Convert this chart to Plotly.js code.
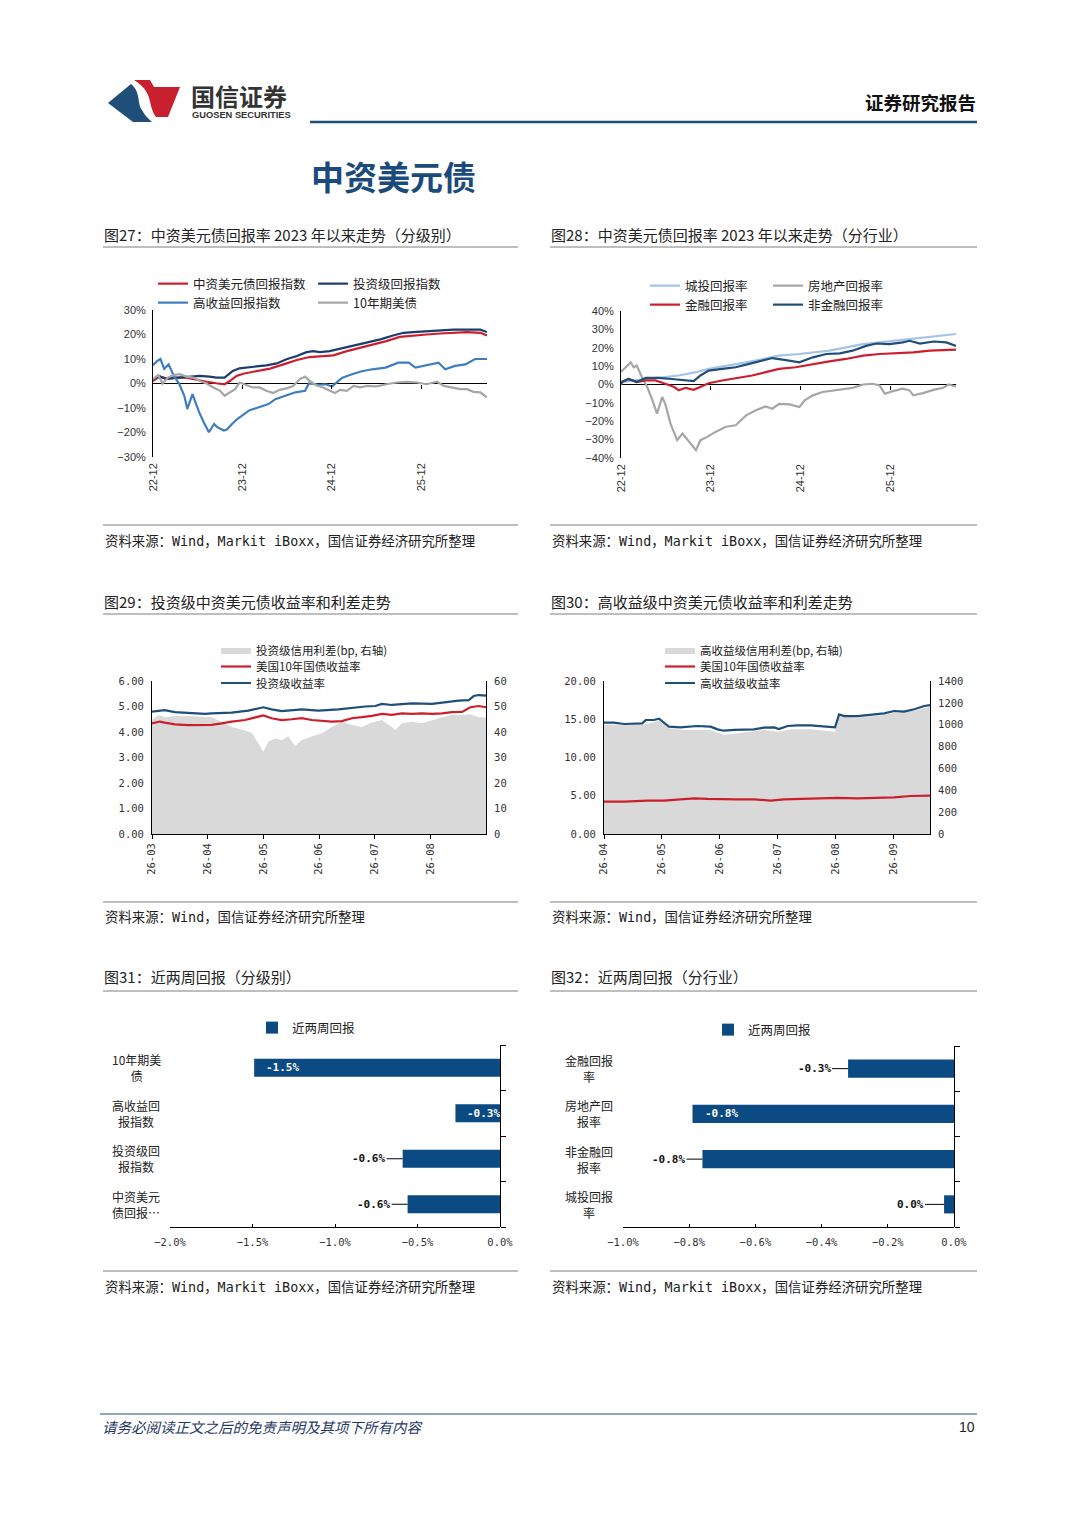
<!DOCTYPE html>
<html><head><meta charset="utf-8">
<script src="https://cdn.plot.ly/plotly-3.0.1.min.js"></script>
<style>html,body{margin:0;padding:0;background:#fff;}#page{width:1080px;height:1527px;}</style>
</head><body><div id="page"></div>
<script>
// ---------------- DATA ----------------
// Chart 27 (x = months since 2022-12), values in %
const c27TickVals = [0, 12, 24, 36];
const c27TickText = ['22-12', '23-12', '24-12', '25-12'];
const cnM = [0,0.9,1.8,3.1,4.5,5.8,7.2,8.5,9.6,10.3,11.2,12.1,13.9,15.7,17.5,19.3,21.0,22.8,24.2,26.0,27.8,29.6,31.3,33.1,34.9,36.7,38.5,40.3,42.1,43.9,44.8];
const cnV = [1,3,1.8,2.4,2.4,1.5,0.7,0.1,-0.3,1,3.1,4,5.1,6.1,7.8,9.6,10.8,11.2,11.5,13.2,14.6,15.9,17.3,19,19.6,20,20.4,20.7,21,20.7,19.6];
const igM = [0,0.9,1.8,3.1,4.5,6.3,7.6,8.5,9.6,10.1,10.7,11.6,12.5,13.9,15.2,16.6,17.9,19.3,20.6,21.5,22.4,23.7,25.1,26.9,28.7,30.5,32.2,33.6,34.9,36.7,38.5,40.3,42.1,43.9,44.8];
const igV = [1.8,2.8,2,2.4,2.8,3.1,2.8,2.4,2.4,3.8,5.1,6.2,6.5,7.2,7.4,8.2,9.9,11.2,12.8,13.2,12.8,13.2,14.2,15.5,16.6,18,19.6,20.7,21,21.4,21.8,22,22,22,21];
const hyM = [0,0.5,1,1.5,2.1,2.8,3.5,4.2,4.6,5.3,5.7,6.2,6.8,7.5,8.2,8.6,9.5,9.9,10.6,11.3,12,12.9,14.2,15.5,16.4,17.8,19.1,20.4,20.9,22.2,23.2,24,25.4,26.7,28,29.4,31.2,32.9,34.3,35.2,37,38.3,39.2,40.5,41.9,43.2,44.8];
const hyV = [7.5,9,10,6,7.8,3,0,-5,-10.4,-4.3,-7.7,-11.8,-15.8,-19.9,-16.5,-17.8,-19.2,-18.8,-16.5,-14.5,-13,-11,-9.7,-8.4,-6.4,-5,-3.6,-3,0,-0.5,-0.3,-1.2,2.4,3.8,5,5.8,6.5,8.5,8.5,6.5,7.8,8.5,5.8,7.2,7.8,10,10];
const ustM = [0,0.7,1.3,2.0,2.7,3.6,4.5,5.4,6.3,7.2,8.1,9.0,9.6,10.3,11.0,11.6,12.5,13.4,14.3,15.2,16.1,17.0,17.9,18.8,19.7,20.4,21.0,21.9,22.8,23.7,24.4,25.1,26.0,26.9,27.8,28.7,30.0,31.3,32.7,34.0,35.4,36.7,38.1,39.0,39.9,41.2,42.1,43.0,43.9,44.8];
const ustV = [1.8,3.4,0,2.4,3.4,3.8,2.8,2.4,1,0,-1.6,-3,-5,-3.6,-2.3,0.4,-0.7,-1.6,-1.6,-3,-3.9,-2.6,-2,-1,1.8,2.8,1,-0.7,-1.6,-3,-3.9,-2.6,-3,-1,-1.6,-1,-1.2,-0.3,0.4,0.7,0.4,-0.3,0.7,-1,-1.6,-2.3,-2.3,-3.4,-3.6,-5.7];

// Chart 28 (x = months since 2022-12), values in %
const ctM = [0,0.1,3.3,7.7,10,11.7,16.7,21.1,23.8,27.8,32.3,36.1,41.2,44.7];
const ctV = [0,1.3,3,4.9,6.7,8.5,12,15.7,16.6,18.4,22,23.8,26,27.5];
const reM = [0,0.8,1.3,1.7,2.1,2.8,3.5,4.2,4.8,5.5,5.9,6.6,7.5,8.2,9.1,10.0,10.6,11.5,12.6,14.0,15.3,16.7,18.0,19.3,20.2,21.1,22.5,23.8,24.5,25.6,26.9,28.3,29.6,30.9,32.3,33.6,34.5,35.2,36.3,37.6,38.5,39.0,40.3,41.7,43.0,43.7,44.7];
const reV = [7,10.3,12,9.4,10.3,4,-1.4,-8.6,-15.9,-6.8,-10.5,-21.3,-30.3,-26.7,-31.2,-35.7,-30.3,-28.5,-25.8,-23,-22.2,-16.8,-14,-11.9,-13.2,-10.5,-10.8,-12.3,-8.6,-5.9,-4.1,-3.2,-2.3,-1.8,0,0.4,-0.5,-5,-3.6,-2.3,-3.2,-5.9,-4.7,-2.9,-1.8,0,-1.1];
const finM = [0,0.1,1.0,2.1,3.3,4.6,5.9,7.1,7.7,8.6,9.7,10.6,11.7,13.5,15.8,17.5,19.3,21.1,23.3,25.6,27.8,30.0,32.3,34.5,36.7,39.0,41.2,43.4,44.7];
const finV = [0,1.3,3,1.3,2.2,2.2,0.4,-1.4,-3.2,-1.8,-2.9,-1.1,0.7,2.2,3.6,4.9,6.7,8.5,9.4,11.2,12.6,13.9,15.7,16.6,16.9,17.5,18.4,18.7,19];
const nfM = [0,0.1,1.0,2.1,3.3,5.0,6.8,8.6,9.7,10.6,11.7,13.5,15.3,17.1,18.9,20.2,22.0,23.8,25.6,27.4,29.2,30.9,32.7,34.1,35.8,37.6,38.5,39.9,41.7,43.4,44.7];
const nfV = [0,1.3,3,1.3,3.6,3.6,3,2.5,1.8,4.9,7.6,8.5,9.4,11.2,13,14.4,13.3,12.1,14.8,16.6,16.9,18.4,21,22.3,22,22.9,23.8,22.3,23.4,22.9,21];

// Chart 29 (x = months since 26-03)
const c29TickVals = [0, 1, 2, 3, 4, 5];
const c29TickText = ['26-03', '26-04', '26-05', '26-06', '26-07', '26-08'];
const igSprM = [0,0.11,0.23,0.41,0.65,0.89,1.07,1.25,1.43,1.61,1.79,1.91,2.0,2.09,2.21,2.33,2.45,2.57,2.69,2.87,3.05,3.23,3.41,3.59,3.77,3.95,4.13,4.31,4.37,4.49,4.67,4.85,5.03,5.21,5.39,5.57,5.72,5.81,5.87,5.96,6.0];
const igSprV = [44.7,46.7,45.8,46.3,46.3,46,45.8,44,42,41,39.7,35.6,32.3,36.2,37.5,36.9,38.2,34.5,36.9,38.2,39.5,42,44,42.7,42,43.7,44.7,42,40.8,43.4,44,43.4,44.7,45.8,46.7,46.7,47,46.3,45.8,45.8,45.4];
const ust29M = [0,0.14,0.23,0.41,0.65,0.89,1.07,1.25,1.43,1.67,1.91,2.0,2.15,2.33,2.51,2.69,2.87,3.05,3.23,3.41,3.59,3.77,3.95,4.13,4.31,4.49,4.67,4.85,5.03,5.21,5.39,5.57,5.72,5.87,6.0];
const ust29V = [4.34,4.41,4.37,4.30,4.27,4.26,4.28,4.34,4.41,4.47,4.60,4.65,4.54,4.47,4.50,4.54,4.47,4.44,4.41,4.43,4.54,4.58,4.63,4.71,4.67,4.73,4.71,4.73,4.71,4.73,4.78,4.79,4.97,5.02,4.97];
const igYM = [0,0.11,0.23,0.41,0.65,0.95,1.07,1.43,1.73,1.91,2.0,2.15,2.33,2.69,2.99,3.35,3.65,3.83,4.01,4.13,4.31,4.49,4.67,5.03,5.33,5.51,5.69,5.78,5.87,6.0];
const igYV = [4.80,4.84,4.86,4.78,4.76,4.71,4.73,4.76,4.84,4.93,4.97,4.89,4.82,4.89,4.84,4.89,4.97,5.00,5.02,5.10,5.06,5.10,5.12,5.10,5.19,5.23,5.25,5.41,5.45,5.43];

// Chart 30 (x = months since 26-04)
const c30TickVals = [0, 1, 2, 3, 4, 5];
const c30TickText = ['26-04', '26-05', '26-06', '26-07', '26-08', '26-09'];
const hySprM = [0,0.66,0.95,1.12,1.38,1.84,2.07,2.30,2.59,2.76,3.02,3.23,3.57,3.92,3.99,4.06,4.38,4.84,5.01,5.36,5.63];
const hySprV = [1003,997,1037,967,952,952,906,921,936,952,936,958,958,936,936,1080,1067,1089,1110,1128,1165];
const ust30M = [0,0.35,0.75,1.04,1.32,1.56,1.79,2.02,2.30,2.59,2.88,3.11,3.46,3.80,4.03,4.38,4.72,5.01,5.30,5.63];
const ust30V = [4.23,4.23,4.36,4.36,4.53,4.66,4.58,4.53,4.53,4.53,4.36,4.53,4.62,4.71,4.71,4.66,4.75,4.79,4.97,5.01];
const hyYM = [0,0.17,0.35,0.52,0.66,0.72,0.86,0.95,1.04,1.12,1.32,1.61,1.84,1.96,2.07,2.25,2.59,2.76,2.94,3.02,3.17,3.34,3.57,3.80,3.99,4.06,4.15,4.38,4.61,4.84,5.01,5.18,5.36,5.53,5.63];
const hyYV = [14.55,14.55,14.38,14.38,14.47,14.9,14.9,15.08,14.55,14.03,13.94,14.12,14.03,13.68,13.5,13.6,13.68,13.9,13.94,13.73,14.12,14.2,14.2,14.03,13.94,15.64,15.42,15.42,15.6,15.77,16.08,16.0,16.3,16.73,16.86];

// Chart 31 / 32 (two-week return, %)
const c31Cats = ['10年期美债', '高收益回报指数', '投资级回报指数', '中资美元债回报指数'];
const c31TickText = ['10年期美<br>债', '高收益回<br>报指数', '投资级回<br>报指数', '中资美元<br>债回报…'];
const c31Vals = [-1.49, -0.27, -0.59, -0.56];
const c32Cats = ['金融回报率', '房地产回报率', '非金融回报率', '城投回报率'];
const c32TickText = ['金融回报<br>率', '房地产回<br>报率', '非金融回<br>报率', '城投回报<br>率'];
const c32Vals = [-0.32, -0.79, -0.76, -0.03];

// ---------------- STYLE ----------------
const W = 1080, H = 1527;
const X = v => v / W, Y = v => 1 - v / H;
const CJK = "'Noto Sans CJK SC', sans-serif";
const MONO = "'DejaVu Sans Mono', 'Noto Sans CJK SC', monospace";
const SANS = "'Liberation Sans', 'Noto Sans CJK SC', sans-serif";
const RED = '#cc1f2d', NAVY = '#1b3d6e', NAVY2 = '#1f4e79', HYBLUE = '#3d7ebf', GRAY = '#a6a6a6', LIGHT = '#a4c3e6', AREA = '#d9d9d9', BAR = '#0b4a82';
const c31Inside = [true, true, false, false];
const c32Inside = [false, true, false, false];

const line = (x, y, name, color, xa, ya, lg) => ({type: 'scatter', mode: 'lines', x, y, name, line: {color, width: 2.2}, xaxis: xa, yaxis: ya, legend: lg, hoverinfo: 'skip'});
const area = (x, y, name, xa, ya, lg) => ({type: 'scatter', mode: 'lines', x, y, name, fill: 'tozeroy', fillcolor: AREA, line: {color: AREA, width: 0}, xaxis: xa, yaxis: ya, legend: lg, hoverinfo: 'skip'});
const ghost = (xa, ya) => ({type: 'scatter', mode: 'markers', x: [null], y: [null], xaxis: xa, yaxis: ya, showlegend: false, hoverinfo: 'skip'});

const traces = [
  line(cnM, cnV, '中资美元债回报指数', RED, 'x', 'y', 'legend'),
  line(igM, igV, '投资级回报指数', NAVY, 'x', 'y', 'legend'),
  line(hyM, hyV, '高收益回报指数', HYBLUE, 'x', 'y', 'legend2'),
  line(ustM, ustV, '10年期美债', GRAY, 'x', 'y', 'legend2'),
  ghost('x2', 'y'),
  line(ctM, ctV, '城投回报率', LIGHT, 'x3', 'y3', 'legend3'),
  line(reM, reV, '房地产回报率', GRAY, 'x3', 'y3', 'legend3'),
  line(finM, finV, '金融回报率', RED, 'x3', 'y3', 'legend4'),
  line(nfM, nfV, '非金融回报率', NAVY2, 'x3', 'y3', 'legend4'),
  ghost('x4', 'y3'),
  area(igSprM, igSprV, '投资级信用利差(bp, 右轴)', 'x5', 'y5', 'legend5'),
  line(ust29M, ust29V, '美国10年国债收益率', RED, 'x5', 'y6', 'legend6'),
  line(igYM, igYV, '投资级收益率', NAVY2, 'x5', 'y6', 'legend7'),
  area(hySprM, hySprV, '高收益级信用利差(bp, 右轴)', 'x6', 'y7', 'legend8'),
  line(ust30M, ust30V, '美国10年国债收益率', RED, 'x6', 'y8', 'legend9'),
  line(hyYM, hyYV, '高收益级收益率', NAVY2, 'x6', 'y8', 'legend10'),
  {type: 'bar', orientation: 'h', x: c31Vals, y: c31Cats, name: '近两周回报', marker: {color: BAR}, width: 0.4, xaxis: 'x7', yaxis: 'y9', legend: 'legend11', hoverinfo: 'skip'},
  ghost('x7', 'y10'),
  {type: 'bar', orientation: 'h', x: c32Vals, y: c32Cats, name: '近两周回报', marker: {color: BAR}, width: 0.4, xaxis: 'x8', yaxis: 'y11', legend: 'legend12', hoverinfo: 'skip'},
  ghost('x8', 'y12')
];

const tf = (fam, size) => ({family: fam, size, color: '#333'});
const base = {showgrid: false, zeroline: false, automargin: false, fixedrange: true};
const zeroPos = (top, bot, lo, hi) => Y(bot) + (0 - lo) / (hi - lo) * (Y(top) - Y(bot));

const layout = {
  width: W, height: H, autosize: false, margin: {l: 0, r: 0, t: 0, b: 0},
  paper_bgcolor: '#fff', plot_bgcolor: 'rgba(0,0,0,0)', font: {family: CJK, color: '#222'},
  // chart 27
  xaxis: Object.assign({}, base, {domain: [X(153), X(487)], range: [0, 44.8], anchor: 'y', tickvals: c27TickVals, ticktext: c27TickText, tickangle: -90, ticks: '', showline: false, ticklabelstandoff: 3, tickfont: tf(SANS, 11)}),
  yaxis: Object.assign({}, base, {domain: [Y(457), Y(310)], range: [-30, 30], dtick: 10, ticksuffix: '%', anchor: 'x', showline: true, linecolor: '#000', linewidth: 1, zeroline: true, zerolinecolor: '#000', zerolinewidth: 1, ticks: '', ticklabelstandoff: 4, tickfont: tf(SANS, 11)}),
  xaxis2: Object.assign({}, base, {overlaying: 'x', anchor: 'free', position: zeroPos(310, 457, -30, 30), range: [0, 44.8], tickvals: [12, 24, 36], ticks: 'outside', ticklen: 4, tickcolor: '#000', showticklabels: false, showline: false}),
  // chart 28
  xaxis3: Object.assign({}, base, {domain: [X(621), X(956)], range: [0, 44.7], anchor: 'y3', tickvals: c27TickVals, ticktext: c27TickText, tickangle: -90, ticks: '', showline: false, ticklabelstandoff: 3, tickfont: tf(SANS, 11)}),
  yaxis3: Object.assign({}, base, {domain: [Y(458), Y(311)], range: [-40, 40], dtick: 10, ticksuffix: '%', anchor: 'x3', showline: true, linecolor: '#000', linewidth: 1, zeroline: true, zerolinecolor: '#000', zerolinewidth: 1, ticks: '', ticklabelstandoff: 4, tickfont: tf(SANS, 11)}),
  xaxis4: Object.assign({}, base, {overlaying: 'x3', anchor: 'free', position: zeroPos(311, 458, -40, 40), range: [0, 44.7], tickvals: [12, 24, 36], ticks: 'outside', ticklen: 4, tickcolor: '#000', showticklabels: false, showline: false}),
  // chart 29
  xaxis5: Object.assign({}, base, {domain: [X(152), X(486)], range: [0, 6], anchor: 'y5', tickvals: c29TickVals, ticktext: c29TickText, tickangle: -90, ticks: 'outside', ticklen: 4, tickcolor: '#000', showline: true, linecolor: '#000', tickfont: tf(MONO, 10.5)}),
  yaxis5: Object.assign({}, base, {domain: [Y(834), Y(681)], range: [0, 60], dtick: 10, side: 'right', anchor: 'x5', showline: true, linecolor: '#000', ticks: '', ticklabelstandoff: 5, tickfont: tf(MONO, 10.5)}),
  yaxis6: Object.assign({}, base, {range: [0, 6], dtick: 1, tickformat: '.2f', side: 'left', overlaying: 'y5', anchor: 'x5', showline: true, linecolor: '#000', ticks: '', ticklabelstandoff: 5, tickfont: tf(MONO, 10.5)}),
  // chart 30
  xaxis6: Object.assign({}, base, {domain: [X(604), X(930)], range: [0, 5.63], anchor: 'y7', tickvals: c30TickVals, ticktext: c30TickText, tickangle: -90, ticks: 'outside', ticklen: 4, tickcolor: '#000', showline: true, linecolor: '#000', tickfont: tf(MONO, 10.5)}),
  yaxis7: Object.assign({}, base, {domain: [Y(834), Y(681)], range: [0, 1400], dtick: 200, side: 'right', anchor: 'x6', showline: true, linecolor: '#000', ticks: '', ticklabelstandoff: 5, tickfont: tf(MONO, 10.5)}),
  yaxis8: Object.assign({}, base, {range: [0, 20], dtick: 5, tickformat: '.2f', side: 'left', overlaying: 'y7', anchor: 'x6', showline: true, linecolor: '#000', ticks: '', ticklabelstandoff: 5, tickfont: tf(MONO, 10.5)}),
  // chart 31
  xaxis7: Object.assign({}, base, {domain: [X(170), X(500)], range: [-2, 0], dtick: 0.5, tickformat: '.1f', ticksuffix: '%', anchor: 'y9', showline: true, linecolor: '#000', ticks: 'inside', ticklen: 3, tickcolor: '#000', ticklabelstandoff: 5, tickfont: tf(MONO, 10.5)}),
  yaxis9: Object.assign({}, base, {domain: [Y(1227), Y(1045)], type: 'category', categoryorder: 'array', categoryarray: c31Cats, range: [3.5, -0.5], anchor: 'x7', showticklabels: false, showline: false, ticks: ''}),
  yaxis10: Object.assign({}, base, {overlaying: 'y9', anchor: 'free', position: X(500), side: 'right', range: [3.5, -0.5], tickvals: [-0.5, 0.5, 1.5, 2.5, 3.5], ticks: 'outside', ticklen: 5, tickcolor: '#000', showline: true, linecolor: '#000', showticklabels: false}),
  // chart 32
  xaxis8: Object.assign({}, base, {domain: [X(623), X(954)], range: [-1, 0], dtick: 0.2, tickformat: '.1f', ticksuffix: '%', anchor: 'y11', showline: true, linecolor: '#000', ticks: 'inside', ticklen: 3, tickcolor: '#000', ticklabelstandoff: 5, tickfont: tf(MONO, 10.5)}),
  yaxis11: Object.assign({}, base, {domain: [Y(1227), Y(1046)], type: 'category', categoryorder: 'array', categoryarray: c32Cats, range: [3.5, -0.5], anchor: 'x8', showticklabels: false, showline: false, ticks: ''}),
  yaxis12: Object.assign({}, base, {overlaying: 'y11', anchor: 'free', position: X(954), side: 'right', range: [3.5, -0.5], tickvals: [-0.5, 0.5, 1.5, 2.5, 3.5], ticks: 'outside', ticklen: 5, tickcolor: '#000', showline: true, linecolor: '#000', showticklabels: false}),
  shapes: [],
  annotations: []
};

// legends
const lg = (x, y, extra) => Object.assign({x: X(x), y: Y(y), xanchor: 'left', yanchor: 'middle', orientation: 'h', bgcolor: 'rgba(0,0,0,0)', borderwidth: 0, font: {family: CJK, size: 12.5, color: '#222'}, itemclick: false, itemdoubleclick: false}, extra || {});
const smallLg = {font: {family: CJK, size: 11.5, color: '#222'}};
layout.legend = lg(153, 284, {entrywidth: 115, entrywidthmode: 'pixels'});
layout.legend2 = lg(153, 303, {entrywidth: 115, entrywidthmode: 'pixels'});
layout.legend3 = lg(645, 286, {entrywidth: 78, entrywidthmode: 'pixels'});
layout.legend4 = lg(645, 305, {entrywidth: 78, entrywidthmode: 'pixels'});
layout.legend5 = lg(216, 650, smallLg);
layout.legend6 = lg(216, 666.5, smallLg);
layout.legend7 = lg(216, 683, smallLg);
layout.legend8 = lg(660, 650, smallLg);
layout.legend9 = lg(660, 666.5, smallLg);
layout.legend10 = lg(660, 683, smallLg);
layout.legend11 = lg(252, 1028);
layout.legend12 = lg(708, 1030);

// page decorations
const hline = (x0, x1, y, color, width) => ({type: 'line', xref: 'paper', yref: 'paper', x0: X(x0), x1: X(x1), y0: Y(y), y1: Y(y), line: {color, width}});
const pathPx = s => s.replace(/(-?\d+\.?\d*),(-?\d+\.?\d*)/g, (m, a, b) => X(+a) + ',' + Y(+b));
layout.shapes.push(
  {type: 'path', xref: 'paper', yref: 'paper', path: pathPx('M108,103 L131,84 C141,92 137,104 142,110 C145,116 149,119 152,122 L133,122 Z'), fillcolor: '#1f4e79', line: {width: 0}},
  {type: 'path', xref: 'paper', yref: 'paper', path: pathPx('M134,80 L150,80 L154,87 L180,87 L168,117 L156,117 C150,109 151,100 147,93 C144,87 139,83 134,80 Z'), fillcolor: '#c8202f', line: {width: 0}},
  hline(310, 977, 122, '#1f4e79', 2.5),
  hline(103, 518, 247, '#7f7f7f', 1), hline(550, 977, 247, '#7f7f7f', 1),
  hline(103, 518, 525, '#7f7f7f', 1), hline(550, 977, 525, '#7f7f7f', 1),
  hline(103, 518, 614, '#7f7f7f', 1), hline(550, 977, 614, '#7f7f7f', 1),
  hline(103, 518, 902, '#7f7f7f', 1), hline(550, 977, 902, '#7f7f7f', 1),
  hline(103, 518, 991, '#7f7f7f', 1), hline(550, 977, 991, '#7f7f7f', 1),
  hline(103, 518, 1271, '#7f7f7f', 1), hline(550, 977, 1271, '#7f7f7f', 1),
  hline(100, 977, 1414, '#1f4e79', 1)
);

const txt = (x, y, text, size, opts) => Object.assign({xref: 'paper', yref: 'paper', x: X(x), y: Y(y), xanchor: 'left', yanchor: 'middle', text, showarrow: false, font: {family: CJK, size, color: '#222'}}, opts || {});
const SRC1 = '资料来源：Wind，Markit iBoxx，国信证券经济研究所整理';
const SRC2 = '资料来源：Wind，国信证券经济研究所整理';
const srcFont = {family: MONO, size: 13.4, color: '#222'};
layout.annotations.push(
  txt(189, 95, '国信证券', 24, {font: {family: CJK, size: 24, color: '#333', weight: 'bold'}}),
  txt(190, 115, 'GUOSEN SECURITIES', 9.3, {font: {family: SANS, size: 9.3, color: '#333', weight: 'bold'}}),
  txt(978, 102, '证券研究报告', 18.5, {xanchor: 'right', font: {family: CJK, size: 18.5, color: '#111', weight: 'bold'}}),
  txt(309, 176, '中资美元债', 33, {font: {family: CJK, size: 33, color: '#1a4b7c', weight: 'bold'}}),
  txt(102, 234, '图27：中资美元债回报率 2023 年以来走势（分级别）', 15),
  txt(549, 234, '图28：中资美元债回报率 2023 年以来走势（分行业）', 15),
  txt(102, 601, '图29：投资级中资美元债收益率和利差走势', 15),
  txt(549, 601, '图30：高收益级中资美元债收益率和利差走势', 15),
  txt(102, 977, '图31：近两周回报（分级别）', 15),
  txt(549, 977, '图32：近两周回报（分行业）', 15),
  txt(103, 541, SRC1, 13.4, {font: srcFont}),
  txt(550, 541, SRC1, 13.4, {font: srcFont}),
  txt(103, 917, SRC2, 13.4, {font: srcFont}),
  txt(550, 917, SRC2, 13.4, {font: srcFont}),
  txt(103, 1287, SRC1, 13.4, {font: srcFont}),
  txt(550, 1287, SRC1, 13.4, {font: srcFont}),
  txt(100, 1426, '<i>请务必阅读正文之后的免责声明及其项下所有内容</i>', 14.5, {font: {family: CJK, size: 14.5, color: '#1f3864'}}),
  txt(977, 1427, '10', 14, {xanchor: 'right', font: {family: SANS, size: 14, color: '#222'}})
);

// bar category labels and value labels
const fmt = v => (Math.round(v * 10) / 10).toFixed(1) + '%';
function barAnn(vals, texts, inside, xref, yref, labelX) {
  texts.forEach((t, i) => layout.annotations.push({xref: 'paper', yref, x: X(labelX), y: i, text: t, showarrow: false, xanchor: 'center', yanchor: 'middle', align: 'center', font: {family: CJK, size: 12, color: '#222'}}));
  vals.forEach((v, i) => {
    if (inside[i]) {
      layout.annotations.push({xref, yref, x: v, y: i, text: fmt(v), showarrow: false, xanchor: 'left', yanchor: 'middle', xshift: 10, font: {family: MONO, size: 11, color: '#fff', weight: 'bold'}});
    } else {
      layout.annotations.push({xref, yref, x: v, y: i, text: fmt(v), showarrow: true, ax: -34, ay: 0, arrowhead: 0, arrowwidth: 1, arrowcolor: '#000', standoff: 0, font: {family: MONO, size: 11, color: '#111', weight: 'bold'}});
    }
  });
}
barAnn(c31Vals, c31TickText, c31Inside, 'x7', 'y9', 136);
barAnn(c32Vals, c32TickText, c32Inside, 'x8', 'y11', 589);

Plotly.newPlot('page', traces, layout, {staticPlot: true, displayModeBar: false});
</script></body></html>
